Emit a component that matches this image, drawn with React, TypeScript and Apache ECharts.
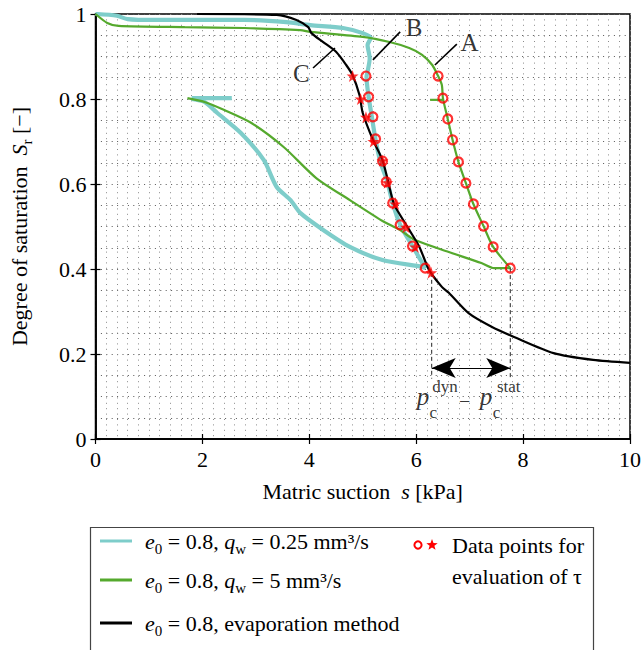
import React, { useEffect, useRef } from "react";
import * as echarts from "echarts";

const FONT = "Liberation Serif, Times New Roman, serif";

// axis ranges / ticks
const xRange = [0, 10];
const xStep = 2;
const yRange = [0, 1];
const yStep = 0.2;

// series names
const nameCyan = "e0 = 0.8, qw = 0.25 mm³/s";
const nameGreen = "e0 = 0.8, qw = 5 mm³/s";
const nameBlack = "e0 = 0.8, evaporation method";

// q_w = 0.25 mm3/s (cyan)
const cyanDrying = [
  [0, 1.0], [0.4, 0.996], [0.6, 0.988], [1.11, 0.986], [2.78, 0.986], [3.57, 0.981],
  [4.02, 0.974], [4.63, 0.967], [5.0, 0.955], [5.15, 0.944], [5.09, 0.927], [5.13, 0.896],
  [5.09, 0.864], [5.07, 0.852], [5.11, 0.805], [5.17, 0.758], [5.24, 0.704], [5.33, 0.652],
  [5.46, 0.605], [5.56, 0.555], [5.7, 0.504], [5.93, 0.454], [6.17, 0.402],
];
const cyanWetting = [
  [6.17, 0.402], [6.11, 0.405], [5.37, 0.421], [4.76, 0.452], [4.26, 0.492], [3.83, 0.532],
  [3.65, 0.562], [3.39, 0.593], [3.15, 0.656], [2.72, 0.72], [2.28, 0.767], [2.04, 0.793], [1.8, 0.8],
];
const cyanStub = [[1.8, 0.802], [2.55, 0.802]];

// q_w = 5 mm3/s (green)
const greenDrying = [
  [0, 1.0], [0.22, 0.979], [0.43, 0.972], [1.67, 0.969], [2.78, 0.967], [3.83, 0.962],
  [4.02, 0.958], [5.0, 0.946], [5.5, 0.934], [5.87, 0.92], [6.11, 0.904], [6.3, 0.88],
  [6.41, 0.854], [6.48, 0.833], [6.5, 0.802], [6.59, 0.753], [6.68, 0.704], [6.79, 0.652],
  [6.93, 0.602], [7.07, 0.553], [7.26, 0.501], [7.44, 0.452], [7.76, 0.402],
];
const greenWetting = [
  [7.76, 0.402], [7.46, 0.402], [7.22, 0.414], [6.61, 0.44], [5.98, 0.468], [5.69, 0.492],
  [5.37, 0.513], [4.76, 0.562], [4.13, 0.614], [3.52, 0.687], [2.91, 0.744], [2.41, 0.774],
  [2.04, 0.793], [1.72, 0.802],
];
const greenStub = [[6.26, 0.798], [6.52, 0.798]];

// evaporation method (black)
const blackCurve = [
  [1.9, 1.0], [3.39, 0.998], [3.76, 0.986], [3.98, 0.969], [4.04, 0.955], [4.26, 0.934],
  [4.5, 0.911], [4.69, 0.88], [4.81, 0.856], [4.94, 0.809], [5.0, 0.767], [5.19, 0.704],
  [5.37, 0.656], [5.56, 0.562], [5.61, 0.546], [5.87, 0.492], [6.06, 0.452], [6.24, 0.398],
  [6.48, 0.358], [6.61, 0.344], [6.98, 0.296], [7.41, 0.264], [7.83, 0.24], [8.57, 0.202],
  [9.31, 0.186], [10.0, 0.179],
];

// data points for evaluation of tau
const starPoints = [
  [4.81, 0.854], [4.96, 0.8], [5.06, 0.757], [5.2, 0.7], [5.37, 0.655], [5.46, 0.603],
  [5.61, 0.553], [5.81, 0.498], [5.98, 0.452], [6.28, 0.391],
];
const circlesB = [
  [5.06, 0.854], [5.11, 0.805], [5.19, 0.758], [5.24, 0.706], [5.37, 0.654], [5.44, 0.605],
  [5.56, 0.555], [5.7, 0.504], [5.93, 0.454], [6.17, 0.402],
];
const circlesA = [
  [6.41, 0.854], [6.5, 0.802], [6.59, 0.753], [6.68, 0.704], [6.79, 0.652], [6.93, 0.602],
  [7.07, 0.553], [7.26, 0.501], [7.44, 0.452], [7.76, 0.402],
];

// annotations
const leaderA = [[6.35, 0.88], [6.76, 0.929]];
const leaderB = [[5.19, 0.892], [5.7, 0.958]];
const leaderC = [[4.07, 0.873], [4.48, 0.92]];
const curveLabels = [
  { name: "A", value: [7.0, 0.934] },
  { name: "B", value: [5.96, 0.969] },
  { name: "C", value: [3.85, 0.861] },
];
const dashDyn = [[6.29, 0.391], [6.29, 0.142]];
const dashStat = [[7.76, 0.402], [7.76, 0.142]];
const arrowY = 0.167;
const pcLabel = [
  { name: "p", value: [6.01, 0.101], size: 25, italic: true },
  { name: "c", value: [6.25, 0.063], size: 17, italic: false },
  { name: "dyn", value: [6.3, 0.124], size: 17, italic: false },
  { name: "−", value: [6.8, 0.09], size: 20, italic: false },
  { name: "p", value: [7.19, 0.101], size: 25, italic: true },
  { name: "c", value: [7.43, 0.063], size: 17, italic: false },
  { name: "stat", value: [7.51, 0.124], size: 17, italic: false },
];

const STAR = "path://M12,0 L14.9,8.5 L24,8.5 L16.6,13.9 L19.4,22.6 L12,17.2 L4.6,22.6 L7.4,13.9 L0,8.5 L9.1,8.5 Z";

const CYAN = "#7ecdca";
const GREEN = "#55a92d";
const RED = "#ff0000";

function starPts(cx: number, cy: number, ro: number, ri: number) {
  const pts: number[][] = [];
  for (let k = 0; k < 10; k++) {
    const r = k % 2 === 0 ? ro : ri;
    const a = -Math.PI / 2 + (k * Math.PI) / 5;
    pts.push([cx + r * Math.cos(a), cy + r * Math.sin(a)]);
  }
  return pts;
}

const legendRich = {
  i: { fontFamily: FONT, fontSize: 22, fontStyle: "italic", color: "#000" },
  s: { fontFamily: FONT, fontSize: 15, color: "#000", padding: [16, 0, 0, 0] },
  t: { fontFamily: FONT, fontSize: 22, color: "#000" },
};

const legendText: Record<string, string> = {
  [nameCyan]: "{i|e}{s|0}{t| = 0.8, }{i|q}{s|w}{t| = 0.25 mm³/s}",
  [nameGreen]: "{i|e}{s|0}{t| = 0.8, }{i|q}{s|w}{t| = 5 mm³/s}",
  [nameBlack]: "{i|e}{s|0}{t| = 0.8, evaporation method}",
};

function makeLegend(name: string, top: number, left: number) {
  return {
    data: [name],
    orient: "vertical",
    left,
    top,
    padding: 0,
    icon: "rect",
    itemWidth: 32,
    itemHeight: 3,
    selectedMode: false,
    formatter: (n: string) => legendText[n],
    textStyle: { fontFamily: FONT, fontSize: 22, color: "#000", padding: [0, 0, 0, 8], rich: legendRich },
  };
}

export default function App() {
  const ref = useRef<HTMLDivElement>(null);
  useEffect(() => {
    if (!ref.current) return;
    const chart = echarts.init(ref.current, null, { renderer: "svg" });
    const gridLineH = { show: true, lineStyle: { color: "#555", type: [1, 4.4], width: 1 } };
    const gridLineV = { show: true, lineStyle: { color: "#8a8a8a", type: [1, 4.4], width: 1 } };
    const axisLine = { show: true, lineStyle: { color: "#000", width: 1.5 } };
    const tick = { show: true, inside: true, length: 5, lineStyle: { color: "#000", width: 1.2 } };
    const lineBase = { type: "line", showSymbol: false, symbol: "none", silent: true, z: 3, smooth: 0.25 };
    const annotLine = (data: number[][], extra: any = {}) => ({
      type: "line", data, showSymbol: false, symbol: "none", silent: true, z: 6,
      lineStyle: { color: "#000", width: 1.6, ...extra }, itemStyle: { color: "#000" },
    });

    chart.setOption({
      animation: false,
      textStyle: { fontFamily: FONT },
      grid: { left: 90, top: 14, width: 540, height: 425, show: true, borderColor: "#000", borderWidth: 1.5 },
      xAxis: [
        {
          type: "value", min: xRange[0], max: xRange[1], interval: xStep, position: "bottom",
          axisLine, axisTick: tick,
          axisLabel: { fontFamily: FONT, fontSize: 22, color: "#000", margin: 9 },
          splitLine: gridLineV,
          minorTick: { show: false, splitNumber: 10 },
          minorSplitLine: gridLineV,
          name: "Matric suction  {i|s} [kPa]",
          nameLocation: "middle",
          nameGap: 41,
          nameTextStyle: {
            fontFamily: FONT, fontSize: 22, color: "#000",
            rich: { i: { fontFamily: FONT, fontSize: 22, fontStyle: "italic", color: "#000" } },
          },
        },
        {
          type: "value", min: xRange[0], max: xRange[1], interval: xStep, position: "top",
          axisLine, axisTick: tick, axisLabel: { show: false }, splitLine: { show: false },
        },
      ],
      yAxis: [
        {
          type: "value", min: yRange[0], max: yRange[1], interval: yStep, position: "left",
          axisLine, axisTick: tick,
          axisLabel: { fontFamily: FONT, fontSize: 22, color: "#000", margin: 9, formatter: (v: number) => String(Math.round(v * 10) / 10) },
          splitLine: gridLineH,
          minorTick: { show: false, splitNumber: 4 },
          minorSplitLine: gridLineH,
          name: "Degree of saturation  {i|S}{s|r} [−]",
          nameLocation: "middle",
          nameGap: 61,
          nameTextStyle: {
            fontFamily: FONT, fontSize: 22, color: "#000",
            rich: {
              i: { fontFamily: FONT, fontSize: 22, fontStyle: "italic", color: "#000" },
              s: { fontFamily: FONT, fontSize: 15, color: "#000", padding: [16, 0, 0, 0] },
            },
          },
        },
        {
          type: "value", min: yRange[0], max: yRange[1], interval: yStep, position: "right",
          axisLine, axisTick: tick, axisLabel: { show: false }, splitLine: { show: false },
        },
      ],
      legend: [
        makeLegend(nameCyan, 530, 100),
        makeLegend(nameGreen, 569, 100),
        makeLegend(nameBlack, 612, 100),
      ],
      series: [
        { ...lineBase, name: nameCyan, color: CYAN, data: [...cyanDrying, ...cyanWetting], lineStyle: { color: CYAN, width: 4.2 } },
        { ...lineBase, name: nameCyan, color: CYAN, data: cyanStub, lineStyle: { color: CYAN, width: 4.2 } },
        { ...lineBase, name: nameGreen, color: GREEN, data: [...greenDrying, ...greenWetting], lineStyle: { color: GREEN, width: 2.2 }, z: 4 },
        { ...lineBase, name: nameGreen, color: GREEN, data: greenStub, lineStyle: { color: GREEN, width: 2.2 }, z: 4 },
        { ...lineBase, name: nameBlack, color: "#000", data: blackCurve, lineStyle: { color: "#000", width: 2.2 }, z: 5 },
        {
          type: "scatter", name: "stars", data: starPoints, symbol: STAR, symbolSize: 12, silent: true, z: 7,
          itemStyle: { color: RED },
        },
        {
          type: "scatter", name: "circlesB", data: circlesB, symbol: "circle", symbolSize: 9, silent: true, z: 8,
          itemStyle: { color: "rgba(255,255,255,0)", borderColor: RED, borderWidth: 2.2 },
        },
        {
          type: "scatter", name: "circlesA", data: circlesA, symbol: "circle", symbolSize: 9, silent: true, z: 8,
          itemStyle: { color: "rgba(255,255,255,0)", borderColor: RED, borderWidth: 2.2 },
        },
        annotLine(leaderA),
        annotLine(leaderB),
        annotLine(leaderC),
        annotLine(dashDyn, { type: [4, 3], width: 1, color: "#222" }),
        {
          ...annotLine(dashStat, { type: [4, 3], width: 1, color: "#222" }),
          markLine: {
            silent: true,
            symbol: ["arrow", "arrow"],
            symbolSize: [15, 24],
            label: { show: false },
            lineStyle: { color: "#000", width: 1.2, type: "solid" },
            itemStyle: { color: "#200" },
            data: [[{ coord: [dashDyn[0][0], arrowY] }, { coord: [dashStat[0][0], arrowY] }]],
          },
        },
        {
          type: "scatter", name: "curveLabels", data: curveLabels, symbolSize: 0, silent: true, z: 9,
          label: {
            show: true, position: "inside", formatter: "{b}", fontFamily: FONT, fontSize: 25, color: "#000",
            align: "center", verticalAlign: "middle",
          },
        },
        {
          type: "scatter", name: "pcLabel", symbolSize: 0, silent: true, z: 9,
          data: pcLabel.map((d) => ({
            name: d.name,
            value: d.value,
            label: {
              fontSize: d.size,
              fontStyle: d.italic ? "italic" : "normal",
            },
          })),
          label: {
            show: true, position: "inside", formatter: "{b}", fontFamily: FONT, color: "#000",
            align: "left", verticalAlign: "middle",
          },
        },
      ],
      graphic: [
        {
          type: "rect", left: 88, top: 525, shape: { width: 503, height: 123 },
          style: { fill: "none", stroke: "#444", lineWidth: 1.2 }, silent: true,
        },
        {
          type: "circle", shape: { cx: 418, cy: 545, r: 3.6 },
          style: { fill: "none", stroke: RED, lineWidth: 2 }, silent: true,
        },
        {
          type: "polygon", shape: { points: starPts(432, 545, 6, 2.5) },
          style: { fill: RED }, silent: true,
        },
        {
          type: "text", x: 452, y: 545,
          style: { text: "Data points for", fontFamily: FONT, fontSize: 22, fill: "#000", verticalAlign: "middle" },
        },
        {
          type: "text", x: 452, y: 576,
          style: { text: "evaluation of τ", fontFamily: FONT, fontSize: 22, fill: "#000", verticalAlign: "middle" },
        },
      ],
    });
    return () => chart.dispose();
  }, []);
  return (
    <div
      ref={ref}
      style={{ position: "absolute", left: 0, top: 0, width: 644, height: 650, background: "#fff" }}
    />
  );
}
